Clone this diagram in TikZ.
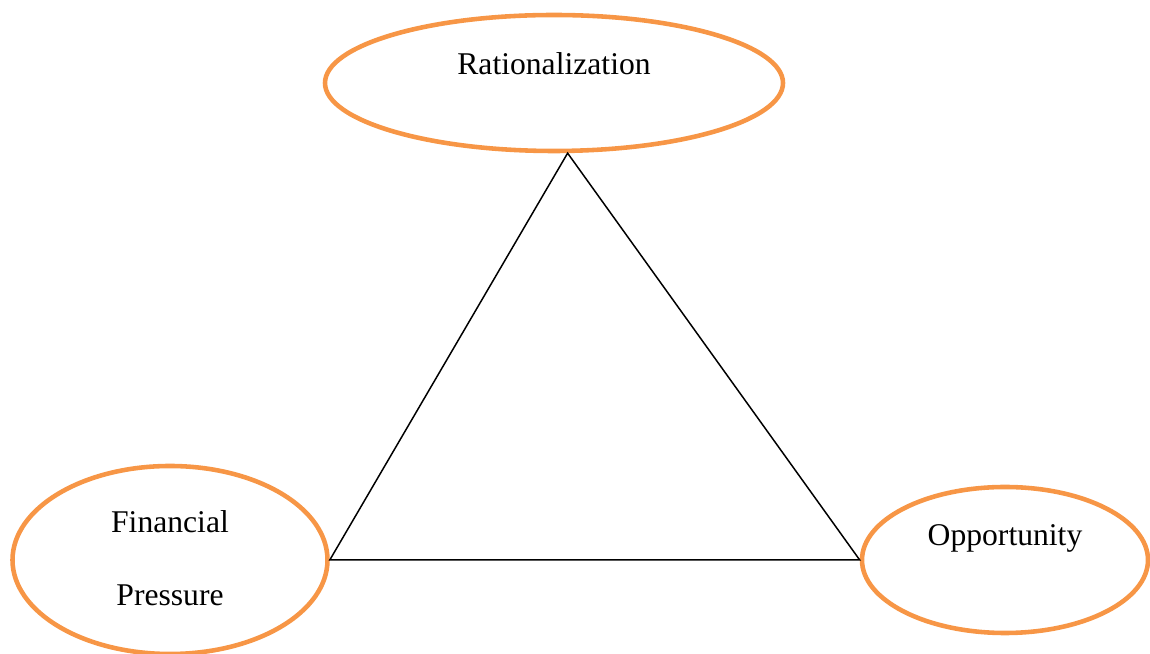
\documentclass[tikz,border=0pt]{standalone}
\usepackage{fontspec}
\setmainfont{Liberation Serif}
\usetikzlibrary{shapes.geometric}
\definecolor{Orange}{HTML}{F79646}

\begin{document}
\begin{tikzpicture}[font=\fontsize{18}{21.6}\selectfont,
    oval/.style={ellipse,draw=Orange,line width=2.6pt,inner sep=0pt},
    lbl/.style={inner sep=0pt,align=center}]
    \useasboundingbox (0,0) rectangle (23,13.08);
    % the three ovals
    \node[oval,minimum width=9.16cm,minimum height=2.72cm] (rat) at (11.08,11.42) {};
    \node[oval,minimum width=6.3cm,minimum height=3.76cm]  (fin) at (3.40,1.88) {};
    \node[oval,minimum width=5.72cm,minimum height=2.92cm] (opp) at (20.10,1.88) {};
    % their texts
    \node[lbl] (ratlbl) at ([yshift=0.38cm]rat.center) {Rationalization};
    \node[lbl] (finlbl) at ([yshift=0.04cm]fin.center) {Financial\\[20pt]Pressure};
    \node[lbl] (opplbl) at ([yshift=0.44cm]opp.center) {Opportunity};
    % triangle
    \draw[line width=0.85pt] (rat.-79) -- (fin.east) -- (opp.west) -- cycle;
\end{tikzpicture}
\end{document}
